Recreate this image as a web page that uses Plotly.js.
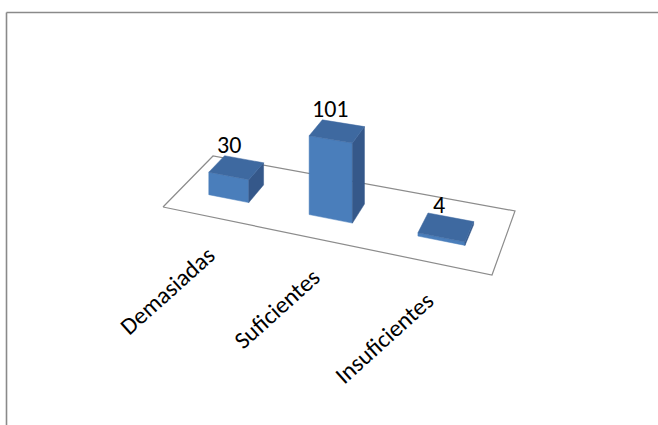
<!DOCTYPE html>
<html>
<head>
<meta charset="utf-8">
<script src="https://cdn.plot.ly/plotly-3.0.1.min.js"></script>
<style>html,body{margin:0;padding:0;background:#fff;}#chart{width:658px;height:425px;}</style>
</head>
<body>
<div id="chart"></div>
<script>
// ---- data ----
const categories = ['Demasiadas', 'Suficientes', 'Insuficientes'];
const values = [30, 101, 4];
const valueLabels = ['30', '101', '4'];

// ---- 3D view (style / geometry constants) ----
const W = 658, H = 425;
const floorCorners = [[163, 207], [492, 275], [515, 211], [213, 156]]; // FL, FR, BR, BL
const barHalf = 0.068;      // half bar width in category-axis units (0..1)
const depth0 = 0.33, depth1 = 0.66;
const heightK = 0.765;      // pixels per value unit at unit depth
const colFront = '#4A7EBB', colTop = '#3E69A0', colSide = '#35588A';
const fontFam = "Carlito, Calibri, 'Open Sans', sans-serif";
const fontSize = 24;

// homography from unit square to floor quad
function homography(q) {
  const [x0, y0] = q[0], [x1, y1] = q[1], [x2, y2] = q[2], [x3, y3] = q[3];
  const dx1 = x1 - x2, dx2 = x3 - x2, dx3 = x0 - x1 + x2 - x3;
  const dy1 = y1 - y2, dy2 = y3 - y2, dy3 = y0 - y1 + y2 - y3;
  const det = dx1 * dy2 - dx2 * dy1;
  const g = (dx3 * dy2 - dx2 * dy3) / det;
  const h = (dx1 * dy3 - dx3 * dy1) / det;
  return {a: x1 - x0 + g * x1, b: x3 - x0 + h * x3, c: x0,
          d: y1 - y0 + g * y1, e: y3 - y0 + h * y3, f: y0, g: g, h: h};
}
const Hm = homography(floorCorners);
function proj(u, v, val) {
  const w = Hm.g * u + Hm.h * v + 1;
  return [(Hm.a * u + Hm.b * v + Hm.c) / w,
          (Hm.d * u + Hm.e * v + Hm.f) / w - val * heightK / w];
}
function poly(pts, color, name) {
  const xs = pts.map(p => p[0]), ys = pts.map(p => p[1]);
  xs.push(xs[0]); ys.push(ys[0]);
  return {x: xs, y: ys, type: 'scatter', mode: 'lines', fill: 'toself',
          fillcolor: color, line: {color: color, width: 0.5}, hoverinfo: 'text',
          text: name, showlegend: false};
}

const traces = [];
// floor plane outline
const fl = [[0, 0], [1, 0], [1, 1], [0, 1], [0, 0]].map(p => proj(p[0], p[1], 0));
traces.push({x: fl.map(p => p[0]), y: fl.map(p => p[1]), type: 'scatter', mode: 'lines',
             line: {color: '#8c8c8c', width: 1.2}, hoverinfo: 'skip', showlegend: false});

const annotations = [];
const N = categories.length;
categories.forEach((cat, i) => {
  const val = values[i];
  const uc = (i + 0.5) / N, uL = uc - barHalf, uR = uc + barHalf;
  const nm = cat + ': ' + val;
  traces.push(poly([proj(uL, depth0, 0), proj(uR, depth0, 0), proj(uR, depth0, val), proj(uL, depth0, val)], colFront, nm));
  traces.push(poly([proj(uR, depth0, 0), proj(uR, depth1, 0), proj(uR, depth1, val), proj(uR, depth0, val)], colSide, nm));
  traces.push(poly([proj(uL, depth0, val), proj(uR, depth0, val), proj(uR, depth1, val), proj(uL, depth1, val)], colTop, nm));
  // value label (above the centre of the top face)
  const lp = proj(uc, (depth0 + depth1) / 2, val);
  annotations.push({x: lp[0], y: lp[1], xref: 'x', yref: 'y', text: valueLabels[i], showarrow: false,
                    xanchor: 'center', yanchor: 'bottom', xshift: -7, yshift: 6,
                    font: {family: fontFam, size: fontSize, color: '#000'}});
  // category label
  const cp = proj(uc, 0, 0);
  annotations.push({x: cp[0], y: cp[1], xref: 'x', yref: 'y', text: cat, showarrow: false,
                    textangle: -42, xanchor: 'right', yanchor: 'top', xshift: 11, yshift: -21,
                    font: {family: fontFam, size: fontSize, color: '#000'}});
});

const layout = {
  width: W, height: H,
  margin: {l: 0, r: 0, t: 0, b: 0},
  paper_bgcolor: '#fff', plot_bgcolor: '#fff',
  xaxis: {range: [0, W], visible: false, fixedrange: true},
  yaxis: {range: [H, 0], visible: false, fixedrange: true},
  showlegend: false,
  annotations: annotations,
  shapes: [
    {type: 'line', xref: 'paper', yref: 'paper', x0: 6.5 / W, y0: 0, x1: 6.5 / W, y1: 1 - 12.5 / H,
     line: {color: '#8a8a8a', width: 1.6}},
    {type: 'line', xref: 'paper', yref: 'paper', x0: 6.5 / W, y0: 1 - 12.5 / H, x1: 1, y1: 1 - 12.5 / H,
     line: {color: '#8a8a8a', width: 1.6}}
  ]
};
Plotly.newPlot('chart', traces, layout, {displayModeBar: false, staticPlot: true});
</script>
</body>
</html>
